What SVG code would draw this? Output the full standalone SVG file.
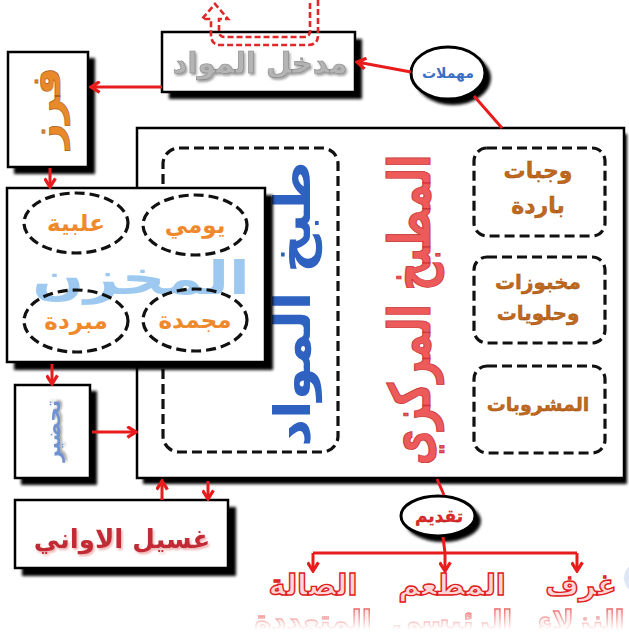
<svg xmlns="http://www.w3.org/2000/svg" width="629" height="639" viewBox="0 0 629 639">
<defs>
<style>
.box{fill:#fff;stroke:#000;stroke-width:2.5}
.sh{fill:#000;filter:url(#blur)}
.dash{fill:none;stroke:#111;stroke-width:3.2;stroke-dasharray:10 5}
.ar{font-family:"DejaVu Sans",sans-serif;font-weight:bold;text-anchor:middle}
.conn{stroke:#e81c1c;stroke-width:3;fill:none}
.orn{fill:#f0892c}
.brn{fill:#c0691c;stroke:#9a4a0c;stroke-width:0.4}
.btm{fill:#ffd6d6;stroke:#e02020;stroke-width:1.4}
</style>
<filter id="blur" x="-10%" y="-10%" width="120%" height="120%"><feGaussianBlur stdDeviation="1.6"/></filter>
<filter id="tsh" x="-10%" y="-20%" width="120%" height="150%"><feDropShadow dx="1.5" dy="2" stdDeviation="0.8" flood-color="#666" flood-opacity="0.6"/></filter>
<filter id="tshp" x="-10%" y="-20%" width="120%" height="150%"><feDropShadow dx="1.5" dy="2" stdDeviation="0.8" flood-color="#e07a7a" flood-opacity="0.6"/></filter>
<marker id="ah" viewBox="0 0 12 12" refX="10" refY="6" markerWidth="13" markerHeight="13" markerUnits="userSpaceOnUse" orient="auto">
<path d="M2,1 L10,6 L2,11" fill="none" stroke="#e81c1c" stroke-width="3"/>
</marker>
<linearGradient id="fadeG" x1="0" y1="0" x2="0" y2="1">
<stop offset="0" stop-color="#fff" stop-opacity="0.85"/>
<stop offset="0.75" stop-color="#fff" stop-opacity="0"/>
</linearGradient>
<mask id="fade" maskUnits="userSpaceOnUse" x="0" y="603" width="629" height="36">
<rect x="0" y="603" width="629" height="36" fill="url(#fadeG)"/>
</mask>
</defs>

<rect width="629" height="639" fill="#fff"/>
<circle cx="640" cy="578" r="16" fill="#dfe7f6"/>

<!-- main kitchen box -->
<g id="central-kitchen">
<rect class="sh" x="143" y="134" width="484" height="350"/>
<rect class="box" x="137" y="128" width="487" height="350"/>
<rect class="dash" x="163" y="148" width="175" height="304" rx="16"/>
<text class="ar" font-size="50" fill="#2f62c0" transform="translate(310,304) rotate(-90) scale(1.08,1)">طبخ المواد</text>
<text class="ar" font-size="50" fill="#ec5a5a" stroke="#c83232" stroke-width="0.8" transform="translate(430,310) rotate(-90) scale(0.78,1.15)">المطبخ المركزي</text>
</g>
<g id="cold-meals">
<rect class="dash" x="474" y="148" width="131" height="88" rx="13"/>
<text class="ar brn" font-size="22" x="538" y="178">وجبات</text>
<text class="ar brn" font-size="22" x="538" y="213">باردة</text>
</g>
<g id="bakery">
<rect class="dash" x="474" y="257" width="131" height="86" rx="13"/>
<text class="ar brn" font-size="20" x="538" y="289">مخبوزات</text>
<text class="ar brn" font-size="20" x="538" y="320">وحلويات</text>
</g>
<g id="drinks">
<rect class="dash" x="474" y="366" width="131" height="87" rx="13"/>
<text class="ar brn" font-size="19" x="538" y="411">المشروبات</text>
</g>

<!-- materials entry -->
<g id="materials-entry">
<rect class="sh" x="169" y="39" width="193" height="60"/>
<rect class="box" x="162" y="32" width="193" height="60"/>
<text class="ar" font-size="29" x="260" y="73" fill="#b4b4b4" stroke="#8a8a8a" stroke-width="0.6" filter="url(#tsh)">مدخل المواد</text>
</g>
<path d="M318,0 V35 Q318,45 308,45 H221 Q211,45 211,35 V19 H202 L215,4 L228,19 H219 V31 Q219,37 225,37 H304 Q310,37 310,31 V0" fill="none" stroke="#e02828" stroke-width="2.6" stroke-dasharray="6 3"/>

<!-- waste -->
<g id="waste">
<ellipse class="sh" cx="453" cy="78" rx="38" ry="27"/>
<ellipse cx="448" cy="73" rx="37" ry="26" fill="#fff" stroke="#000" stroke-width="3"/>
<text class="ar" font-size="14" x="448" y="78" fill="#3a6fc4">مهملات</text>
</g>

<!-- sorting -->
<g id="sorting">
<rect class="sh" x="14" y="58" width="81" height="116"/>
<rect class="box" x="8" y="52" width="80" height="115"/>
<text class="ar" font-size="40" fill="#e8892a" stroke="#a85a10" stroke-width="0.6" transform="translate(60,108) rotate(-90) scale(1.1,1)">فرز</text>
</g>

<!-- preparation -->
<g id="preparation">
<rect class="sh" x="21" y="391" width="76" height="94"/>
<rect class="box" x="15" y="385" width="75" height="93"/>
<text class="ar" font-size="20" fill="#6e92d2" filter="url(#tsh)" transform="translate(60,431) rotate(-90)">تحضير</text>
</g>

<!-- storage -->
<g id="storage">
<rect class="sh" x="14" y="195" width="259" height="175"/>
<rect class="box" x="7" y="188" width="258" height="174"/>
<text class="ar" font-size="46" fill="#8cc0ee" opacity="0.85" transform="translate(141,294) scale(1.32,1)">المخزن</text>
<ellipse class="dash" cx="76" cy="223" rx="52" ry="30"/>
<ellipse class="dash" cx="195" cy="225" rx="52" ry="30"/>
<ellipse class="dash" cx="76" cy="321" rx="52" ry="31"/>
<ellipse class="dash" cx="195" cy="320" rx="52" ry="31"/>
<text class="ar orn" font-size="23" x="76" y="231">علبية</text>
<text class="ar orn" font-size="23" x="195" y="233">يومي</text>
<text class="ar orn" font-size="23" x="76" y="329">مبردة</text>
<text class="ar orn" font-size="23" x="195" y="328">مجمدة</text>
</g>

<!-- dish washing -->
<g id="dish-washing">
<rect class="sh" x="22" y="507" width="214" height="69"/>
<rect class="box" x="15" y="500" width="213" height="68"/>
<text class="ar" font-size="26" x="122" y="548" fill="#c22a34" filter="url(#tshp)">غسيل الاواني</text>
</g>

<!-- serving -->
<g id="serving">
<ellipse class="sh" cx="443" cy="521" rx="38" ry="21"/>
<ellipse cx="438" cy="516" rx="37" ry="20" fill="#fff" stroke="#000" stroke-width="3"/>
<text class="ar" font-size="17" x="439" y="522" fill="#e02a2a" stroke="#a01010" stroke-width="0.3">تقديم</text>
</g>

<g id="guest-rooms">
<text class="ar btm" font-size="29" x="581" y="595">غرف</text>
<text class="ar btm" font-size="29" x="581" y="631" mask="url(#fade)">النزلاء</text>
</g>
<g id="main-restaurant">
<text class="ar btm" font-size="29" x="452" y="595">المطعم</text>
<text class="ar btm" font-size="29" x="452" y="631" mask="url(#fade)">الرئيسي</text>
</g>
<g id="multi-hall">
<text class="ar btm" font-size="29" x="313" y="595">الصالة</text>
<text class="ar btm" font-size="29" x="313" y="631" mask="url(#fade)">المتعددة</text>
</g>

<!-- connectors -->
<g id="connectors">
<path class="conn" d="M411,72 L357,62" marker-end="url(#ah)"/>
<path class="conn" d="M474,96 L502,128"/>
<path class="conn" d="M162,87 L91,87" marker-end="url(#ah)"/>
<path class="conn" d="M50,168 L50,187" marker-end="url(#ah)"/>
<path class="conn" d="M52,364 L52,384" marker-end="url(#ah)"/>
<path class="conn" d="M92,432 L136,432" marker-end="url(#ah)"/>
<path class="conn" d="M162,500 L162,481" marker-end="url(#ah)"/>
<path class="conn" d="M208,481 L208,499" marker-end="url(#ah)"/>
<path class="conn" d="M437,479 L444,495"/>
<path class="conn" d="M443,537 L445,553"/>
<path class="conn" d="M313,553 H577"/>
<path class="conn" d="M313,553 V571" marker-end="url(#ah)"/>
<path class="conn" d="M445,553 V571" marker-end="url(#ah)"/>
<path class="conn" d="M577,553 V571" marker-end="url(#ah)"/>
</g>
</svg>
